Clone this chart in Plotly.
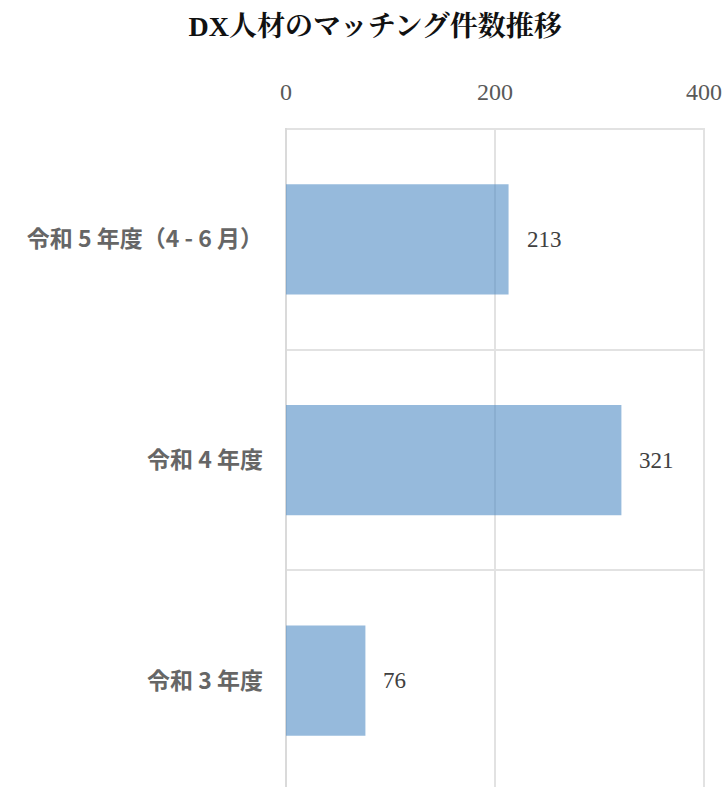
import plotly.graph_objects as go

categories = ["令和 5 年度（4 - 6 月）", "令和 4 年度", "令和 3 年度"]
values = [213, 321, 76]
x_ticks = [0, 200, 400]

serif = "Liberation Serif, 'Noto Serif CJK JP', 'Noto Sans CJK JP', serif"
sans = "'Noto Sans CJK JP', 'Noto Sans', sans-serif"

fig = go.Figure()
fig.add_trace(go.Bar(
    x=values, y=categories, orientation="h",
    marker=dict(color="rgba(80,140,197,0.6)", line=dict(width=0)),
    width=0.5, hoverinfo="x+y",
))

for v, c in zip(values, categories):
    fig.add_annotation(x=v, y=c, text=str(v), showarrow=False,
                       xanchor="left", xshift=16,
                       font=dict(family=serif, size=23, color="#404040"))

fig.update_layout(
    width=727, height=800,
    margin=dict(l=286, r=22, t=128, b=9, autoexpand=False),
    paper_bgcolor="white", plot_bgcolor="white",
    showlegend=False,
    title=dict(text="<b>DX人材のマッチング件数推移</b>", x=0.516, xanchor="center",
               yref="container", y=1 - 26 / 800, yanchor="middle",
               font=dict(family=serif, size=28, color="#111111")),
    xaxis=dict(side="top", range=[0, 401], tickvals=x_ticks,
               ticktext=[str(t) for t in x_ticks], automargin=False,
               showgrid=True, gridcolor="#e2e2e2", gridwidth=1.5,
               zeroline=True, zerolinecolor="#dadada", zerolinewidth=2,
               showline=False, ticks="", ticklabelstandoff=22,
               tickfont=dict(family=serif, size=24, color="#595959"),
               fixedrange=True),
    yaxis=dict(type="category", range=[2.5, -0.505], tickson="boundaries",
               automargin=False,
               showgrid=True, gridcolor="#e2e2e2", gridwidth=1.5,
               showline=False, ticks="", ticklabelstandoff=22,
               tickfont=dict(family=sans, size=23, color="#666666", weight="bold"),
               fixedrange=True),
    bargap=0.5,
)

fig.write_html("out.html")
